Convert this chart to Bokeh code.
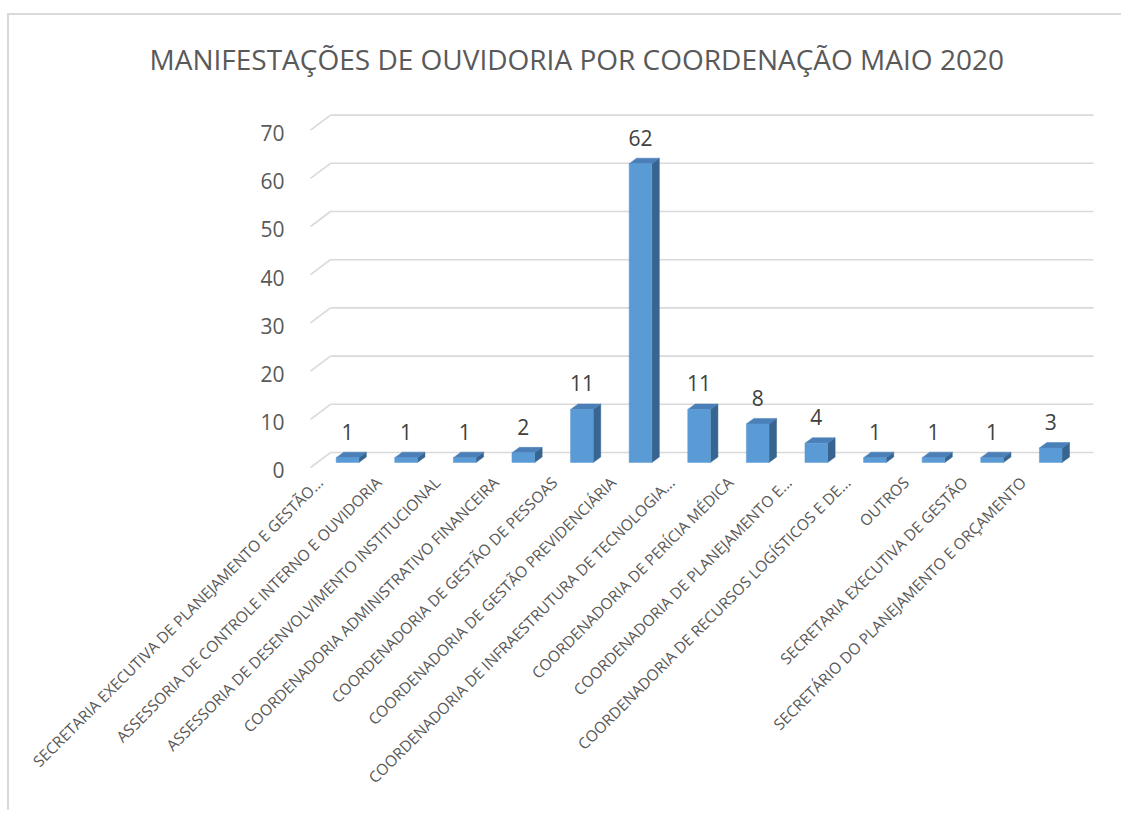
import math
import numpy as np
from bokeh.plotting import figure
from bokeh.models import (Range1d, LinearAxis, FixedTicker, ColumnDataSource, Title)
from bokeh.core.properties import value
from bokeh.embed import file_html
from bokeh.resources import INLINE

# ---------------- data ----------------
title_text = "MANIFESTAÇÕES DE OUVIDORIA POR COORDENAÇÃO MAIO 2020"
categories = [
    "SECRETARIA EXECUTIVA DE PLANEJAMENTO E GESTÃO...",
    "ASSESSORIA DE CONTROLE INTERNO E OUVIDORIA",
    "ASSESSORIA DE DESENVOLVIMENTO INSTITUCIONAL",
    "COORDENADORIA ADMINISTRATIVO FINANCEIRA",
    "COORDENADORIA DE GESTÃO DE PESSOAS",
    "COORDENADORIA DE GESTÃO PREVIDENCIÁRIA",
    "COORDENADORIA DE INFRAESTRUTURA DE TECNOLOGIA...",
    "COORDENADORIA DE PERÍCIA MÉDICA",
    "COORDENADORIA DE PLANEJAMENTO E...",
    "COORDENADORIA DE RECURSOS LOGÍSTICOS E DE...",
    "OUTROS",
    "SECRETARIA EXECUTIVA DE GESTÃO",
    "SECRETÁRIO DO PLANEJAMENTO E ORÇAMENTO",
]
counts = [1, 1, 1, 2, 11, 62, 11, 8, 4, 1, 1, 1, 3]
y_ticks = [0, 10, 20, 30, 40, 50, 60, 70]

# ---------------- geometry (3D look) ----------------
FONT = "Open Sans"
half_w = 0.1935      # half width of bar front face (x units)
dx, dy = 0.128, 1.14  # depth offset of bar top/side
back_dy, front_dy = 2.07, -1.037   # wall planes relative to bar plane
label_dy = -0.6      # small vertical nudge of the value-axis labels
back_x0, front_x0, back_x1 = -0.29, -0.631, 12.73
label_shift = 0.47   # category labels sit a little left of the bar centres

XR = (-0.802, 12.85)
YR = (-2.075, 75.1)

# canvas is moved by the css margin + border (9 px right, 15 px down)
p = figure(width=1114, height=797, output_backend="svg", toolbar_location=None,
           x_range=Range1d(*XR), y_range=Range1d(*YR),
           x_axis_location=None, y_axis_location=None,
           min_border_left=291, min_border_right=23,
           min_border_top=85, min_border_bottom=340,
           background_fill_color="white", border_fill_color="white")
p.styles = {"margin-left": "7px", "margin-top": "13px",
            "border-left": "2px solid #d9d9d9", "border-top": "2px solid #d9d9d9"}
p.outline_line_color = None
p.grid.visible = False

# title
p.title = Title(text=title_text, align="left", offset=-151, text_font=FONT,
                text_font_size="28px", text_font_style="normal",
                text_line_height=0.8,
                text_color="#595959", standoff=45)

# back-wall gridlines and floor/side diagonals
yt = np.array(y_ticks, dtype=float)
p.segment(x0=[back_x0] * len(yt), y0=yt + back_dy, x1=[back_x1] * len(yt),
          y1=yt + back_dy, line_color="#d9d9d9", line_width=1.6)
p.segment(x0=[front_x0] * len(yt), y0=yt + front_dy, x1=[back_x0] * len(yt),
          y1=yt + back_dy, line_color="#d9d9d9", line_width=1.6)

# bars
xs = np.arange(len(counts), dtype=float)
v = np.array(counts, dtype=float)
left, right = xs - half_w, xs + half_w
side_x = [[r, r + dx, r + dx, r] for r in right]
side_y = [[0, dy, c + dy, c] for c in v]
top_x = [[l, r, r + dx, l + dx] for l, r in zip(left, right)]
top_y = [[c, c, c + dy, c + dy] for c in v]
p.patches(side_x, side_y, fill_color="#386490", line_color="#386490", line_width=0.5)
p.patches(top_x, top_y, fill_color="#4a7fb8", line_color="#4a7fb8", line_width=0.5)
p.quad(left=left, right=right, bottom=0, top=v, fill_color="#5b9bd5",
       line_color="#5b9bd5", line_width=0.5)

# data labels
src = ColumnDataSource(dict(x=xs, y=v, t=[str(c) for c in counts]))
p.text(x="x", y="y", text="t", source=src, y_offset=-26, text_align="center",
       text_baseline="middle", text_font=value(FONT), text_font_size="21px",
       text_color="#404040")

# y axis (front plane)
off = front_dy + label_dy
p.extra_y_ranges = {"front": Range1d(YR[0] - off, YR[1] - off)}
yax = LinearAxis(y_range_name="front", ticker=FixedTicker(ticks=y_ticks),
                 axis_line_color=None, major_tick_line_color=None,
                 minor_tick_line_color=None, major_label_standoff=10,
                 major_label_text_font=FONT, major_label_text_font_size="21px",
                 major_label_text_color="#595959")
p.add_layout(yax, "left")

# x axis (category labels)
p.extra_x_ranges = {"cats": Range1d(XR[0] + label_shift, XR[1] + label_shift)}
xax = LinearAxis(x_range_name="cats",
                 ticker=FixedTicker(ticks=list(range(len(categories)))),
                 major_label_overrides={i: c for i, c in enumerate(categories)},
                 axis_line_color=None, major_tick_line_color=None,
                 minor_tick_line_color=None, major_label_standoff=1,
                 major_label_orientation=math.pi / 4,
                 major_label_text_font=FONT, major_label_text_font_size="15.5px",
                 major_label_text_color="#595959")
p.add_layout(xax, "below")

open("out.html", "w").write(file_html(p, INLINE))
